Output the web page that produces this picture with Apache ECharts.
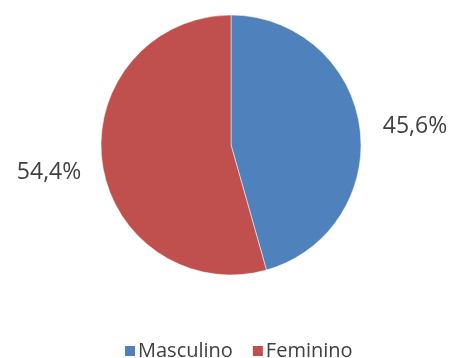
<!DOCTYPE html>
<html><head><meta charset="utf-8">
<script src="https://cdn.jsdelivr.net/npm/echarts@6/dist/echarts.min.js"></script>
<style>html,body{margin:0;padding:0;background:#fff}#c{width:453px;height:358px}</style>
</head><body><div id="c"></div>
<script>
const categories = ["Masculino", "Feminino"];
const values = [45.6, 54.4];
const colors = ["#4F81BD", "#C0504D"];

const chart = echarts.init(document.getElementById('c'), null, {renderer: 'canvas'});
chart.setOption({
  animation: false,
  color: colors,
  legend: {
    data: categories,
    left: 118,
    top: 336,
    itemWidth: 12,
    itemHeight: 12,
    itemGap: 18,
    icon: 'rect',
    textStyle: {fontFamily: 'Open Sans', fontSize: 20, color: '#404040', padding: [0, 0, 0, -3]}
  },
  series: [{
    type: 'pie',
    center: [231, 145],
    radius: 130,
    startAngle: 90,
    clockwise: true,
    data: categories.map((c, i) => ({name: c, value: values[i]})),
    itemStyle: {borderColor: '#fff', borderWidth: 0.5},
    label: {
      show: true,
      position: 'outside',
      overflow: 'none',
      formatter: p => p.value.toFixed(1).replace('.', ',') + '%',
      fontFamily: 'Open Sans',
      fontSize: 23,
      color: '#404040',
      distanceToLabelLine: 5
    },
    labelLayout: p => (p.dataIndex === 1 ? {dy: 9, dx: 2} : {}),
    labelLine: {show: false, length: 2, length2: 16}
  }]
});
</script></body></html>
